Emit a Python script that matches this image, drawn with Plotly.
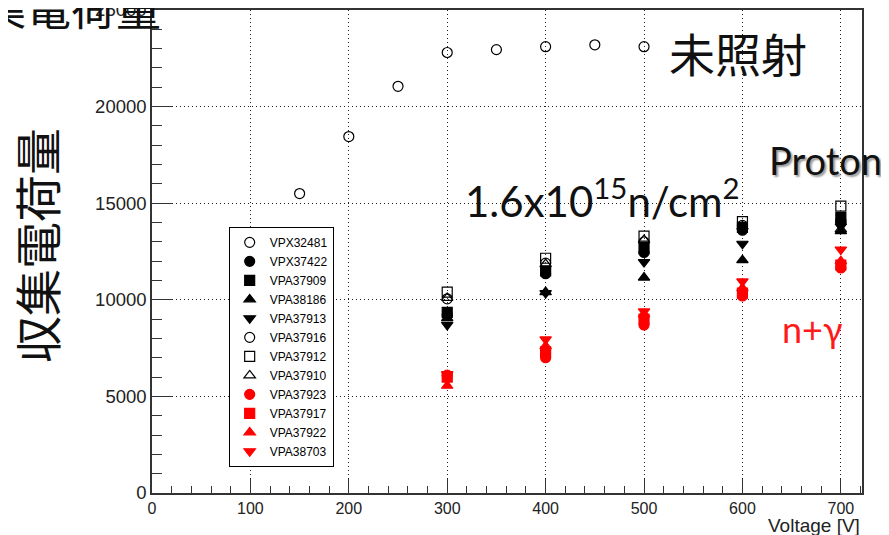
import plotly.graph_objects as go

# ---- data ----
v_unirr = [150, 200, 250, 300, 350, 400, 450, 500]
q_VPX32481 = [15500, 18450, 21050, 22800, 22950, 23100, 23200, 23100]

v_irr = [300, 400, 500, 600, 700]
q_VPX37422 = [9200, 11350, 12450, 13600, 14100]
q_VPA37909 = [9350, 11500, 12650, 13750, 14250]
q_VPA38186 = [9050, 10400, 11150, 12050, 13550]
q_VPA37913 = [8700, 10350, 11950, 12900, 13800]
q_VPA37916 = [10050, 11900, 13000, 13850, 14000]
q_VPA37912 = [10400, 12150, 13300, 14050, 14850]
q_VPA37910 = [10100, 11850, 13100, 13800, 13650]
q_VPA37923 = [6100, 7000, 8700, 10200, 11650]
q_VPA37917 = [6000, 7300, 9000, 10350, 11800]
q_VPA37922 = [5550, 7600, 9250, 10600, 12000]
q_VPA38703 = [6150, 7950, 9400, 10950, 12600]

x_ticks = [0, 100, 200, 300, 400, 500, 600, 700]
y_ticks = [0, 5000, 10000, 15000, 20000, 25000]

series = [
    ("VPX32481", v_unirr, q_VPX32481, "circle-open", "black"),
    ("VPX37422", v_irr, q_VPX37422, "circle", "black"),
    ("VPA37909", v_irr, q_VPA37909, "square", "black"),
    ("VPA38186", v_irr, q_VPA38186, "triangle-up", "black"),
    ("VPA37913", v_irr, q_VPA37913, "triangle-down", "black"),
    ("VPA37916", v_irr, q_VPA37916, "circle-open", "black"),
    ("VPA37912", v_irr, q_VPA37912, "square-open", "black"),
    ("VPA37910", v_irr, q_VPA37910, "triangle-up-open", "black"),
    ("VPA37923", v_irr, q_VPA37923, "circle", "red"),
    ("VPA37917", v_irr, q_VPA37917, "square", "red"),
    ("VPA37922", v_irr, q_VPA37922, "triangle-up", "red"),
    ("VPA38703", v_irr, q_VPA38703, "triangle-down", "red"),
]

fig = go.Figure()
for name, xs, ys, sym, col in series:
    fig.add_trace(go.Scatter(
        x=xs, y=ys, mode="markers", name=name,
        marker=dict(symbol=sym, color=col, size=10,
                    line=dict(color=col, width=1.2)),
    ))

helv = "Liberation Sans, Arial, sans-serif"
grid_dash = "1px,3px"
# page has an 8px body margin: figure is 881x527 so it fills the 889x535 window
fig.update_layout(
    width=881, height=527,
    margin=dict(l=144, r=27, t=2, b=42),
    paper_bgcolor="white", plot_bgcolor="white",
    showlegend=True,
    legend=dict(
        x=0.108, y=0.551, xanchor="left", yanchor="top",
        bgcolor="white", bordercolor="black", borderwidth=1,
        font=dict(family=helv, size=12, color="black"),
        tracegroupgap=0, itemwidth=30,
    ),
    xaxis=dict(
        range=[0, 721.5], tickvals=x_ticks, ticktext=[str(t) for t in x_ticks],
        ticks="inside", ticklen=14, tickcolor="#333", tickwidth=1,
        minor=dict(dtick=20, ticks="inside", ticklen=7, tickcolor="#333", showgrid=False),
        showline=True, linecolor="#333", linewidth=1.5, mirror=True,
        showgrid=True, gridcolor="#222", griddash=grid_dash, gridwidth=1,
        tickfont=dict(family=helv, size=16, color="#222"),
        zeroline=False, automargin=False,
    ),
    yaxis=dict(
        range=[0, 25000], tickvals=y_ticks, ticktext=[str(t) for t in y_ticks],
        ticks="inside", ticklen=20, tickcolor="#333", tickwidth=1,
        minor=dict(dtick=1000, ticks="inside", ticklen=10, tickcolor="#333", showgrid=False),
        showline=True, linecolor="#333", linewidth=1.5, mirror=True,
        showgrid=True, gridcolor="#222", griddash=grid_dash, gridwidth=1,
        tickfont=dict(family=helv, size=18.5, color="#222"),
        ticklabeloverflow="allow",
        zeroline=False, automargin=False,
    ),
)

ann = []
ann.append(dict(text="Voltage [V]", xref="paper", yref="paper", x=1.0, y=-0.068,
                xanchor="right", yanchor="middle", showarrow=False,
                font=dict(family=helv, size=19, color="#222")))
ann.append(dict(text="未照射", xref="paper", yref="paper", x=0.726, y=0.913,
                xanchor="left", yanchor="middle", showarrow=False,
                font=dict(family="Noto Sans CJK JP", size=46, color="#111")))
ann.append(dict(text="Proton", xref="paper", yref="paper", x=0.866, y=0.689,
                xanchor="left", yanchor="middle", showarrow=False,
                font=dict(family="Lato, Noto Sans, sans-serif", size=38, color="#111",
                          shadow="2px 2px 2px #999")))
ann.append(dict(text="1.6x10<sup>15</sup>n/cm<sup>2</sup>", xref="paper", yref="paper",
                x=0.438, y=0.61, xanchor="left", yanchor="middle", showarrow=False,
                font=dict(family="Lato, Noto Sans, sans-serif", size=42, color="#111")))
ann.append(dict(text="n+γ", xref="paper", yref="paper", x=0.884, y=0.34,
                xanchor="left", yanchor="middle", showarrow=False,
                font=dict(family="Lato, Noto Sans, sans-serif", size=36, color="#ff1a1a")))
ann.append(dict(text="収集電荷量", xref="paper", yref="paper", x=-0.165, y=0.513,
                xanchor="center", yanchor="middle", textangle=-90, showarrow=False,
                font=dict(family="Noto Sans CJK JP", size=47, color="#111")))
ann.append(dict(text="収集電荷量", xref="paper", yref="paper", x=0.016, y=1.008,
                xanchor="right", yanchor="middle", showarrow=False,
                font=dict(family="Noto Sans CJK JP", size=45, color="#111")))
fig.update_layout(annotations=ann)

fig.write_html("out.html")
